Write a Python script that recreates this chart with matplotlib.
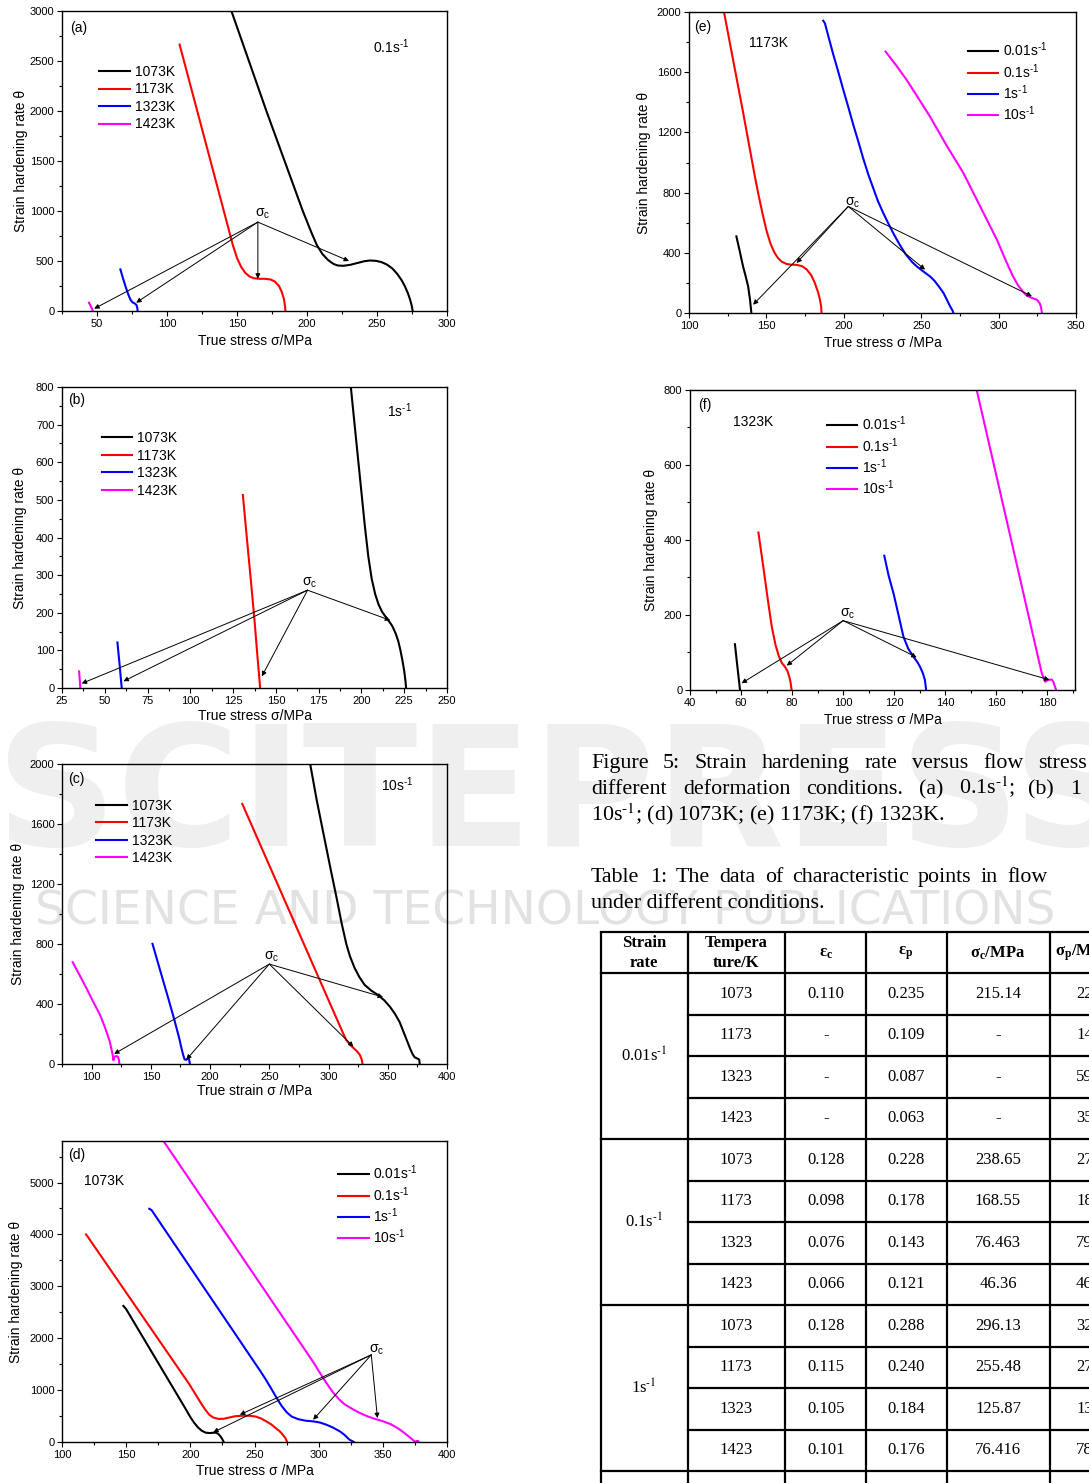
import numpy as np
import matplotlib.pyplot as plt
from matplotlib.ticker import MultipleLocator

plt.rcParams['font.family'] = ['Liberation Sans', 'DejaVu Sans']
plt.rcParams['mathtext.default'] = 'regular'
plt.rcParams['mathtext.fontset'] = 'custom'
plt.rcParams['mathtext.rm'] = 'Liberation Sans'
plt.rcParams['mathtext.it'] = 'Liberation Sans:italic'
plt.rcParams['mathtext.bf'] = 'Liberation Sans:bold'

W, H = 1089, 1483
SERIF = ['Liberation Serif', 'DejaVu Serif']
COLORS = ['#000000', '#ff0000', '#0000ff', '#ff00ff']

# ---------------- data ----------------
temps = ['1073K', '1173K', '1323K', '1423K']
rates = [r'0.01s$^{\text{-1}}$', r'0.1s$^{\text{-1}}$', r'1s$^{\text{-1}}$', r'10s$^{\text{-1}}$']

# (a) 0.1 s-1
a_s1073 = [146, 171, 197, 203, 207, 211, 215, 219, 222, 226, 231, 236, 241, 245, 249, 253, 257, 261, 264.5, 267.5, 270, 272, 273.5, 274.7, 275.5]
a_t1073 = [3000, 2000, 1000, 790, 660, 570, 510, 470, 455, 452, 462, 480, 498, 505, 502, 490, 465, 425, 370, 310, 245, 180, 120, 60, 0]
a_s1173 = [109, 144, 147, 150, 153, 156, 159, 162, 166, 170, 174, 177, 180, 182, 183.5, 184.3, 184.6]
a_t1173 = [2664, 820, 660, 530, 440, 380, 345, 328, 322, 322, 315, 295, 250, 190, 120, 50, 0]
a_s1323 = [66.7, 68.5, 70.5, 72.5, 74, 75.5, 77, 78.2, 78.8, 79]
a_t1323 = [416, 330, 240, 160, 110, 85, 75, 60, 30, 0]
a_s1423 = [44.3, 45.5, 46.5, 47]
a_t1423 = [83, 50, 20, 0]

# (b) 1 s-1
b_s1073 = [193.8, 196, 198, 200, 202, 204, 206, 208, 210, 212, 214, 216, 218, 220, 221.5, 222.8, 224, 225, 225.7, 226.1]
b_t1073 = [800, 700, 610, 520, 430, 350, 290, 250, 222, 203, 190, 178, 165, 145, 125, 100, 72, 45, 20, 0]
b_s1173 = [130.7, 133, 135.5, 137.5, 139.3, 140.8]
b_t1173 = [513, 400, 280, 180, 80, 0]
b_s1323 = [57.4, 58.7, 59.9]
b_t1323 = [121, 60, 0]
b_s1423 = [35, 35.4, 35.7]
b_t1423 = [44, 20, 0]

# (c) 10 s-1
c_s1073 = [284.5, 290, 296.5, 302, 307, 311, 315, 318, 322, 326, 330.4, 336, 341.7, 347, 352, 356, 360, 363.5, 366.5, 369, 371, 372.7, 374.5, 376.5, 377]
c_t1073 = [2000, 1760, 1505, 1290, 1100, 940, 800, 720, 640, 580, 528, 490, 460, 425, 380, 335, 280, 210, 150, 100, 65, 45, 38, 30, 0]
c_s1173 = [227.2, 312, 315, 318, 321, 324, 326.5, 328, 328.7]
c_t1173 = [1734, 210, 160, 130, 107, 85, 60, 30, 0]
c_s1323 = [151.4, 158, 165, 170, 174, 176, 177.5, 178.5, 180, 181.5, 182.3, 183]
c_t1323 = [801, 620, 430, 290, 170, 100, 55, 30, 28, 40, 30, 0]
c_s1423 = [84, 90, 95.6, 101, 107, 111, 115.3, 117.8, 118.4, 119, 120.5, 122, 123, 123.5]
c_t1423 = [679, 590, 506, 420, 329, 250, 151, 60, 25, 48, 52, 50, 30, 0]

# (d) 1073 K
d_s001 = [147.8, 150, 197, 200, 203, 206, 209, 212, 215, 218, 220, 222, 223.8, 225, 226]
d_t001 = [2622, 2560, 610, 480, 370, 280, 215, 180, 172, 178, 180, 150, 100, 50, 0]
d_s01 = [118.7, 119.7, 199, 203, 206, 209, 212, 215, 218, 222, 226, 230, 235, 240, 246, 251, 255, 259, 263, 266, 269.7, 272, 274, 275.4]
d_t01 = [4000, 3968, 1120, 960, 840, 720, 610, 520, 470, 445, 447, 470, 497, 505, 506, 490, 455, 400, 340, 280, 205, 140, 80, 0]
d_s1 = [168, 169.8, 255, 259, 263, 267, 271, 275, 279, 284, 290, 296, 301, 306, 311, 316.5, 320, 324, 327.4]
d_t1 = [4494, 4468, 1350, 1195, 1030, 860, 700, 575, 490, 440, 410, 397, 375, 333, 280, 205, 140, 45, 0]
d_s10 = [179.4, 296, 300, 304, 308, 312, 316, 320, 326, 332, 338, 344, 350, 356, 362, 367, 371, 374, 375, 376.5, 377.5, 378]
d_t10 = [5788, 1532, 1370, 1215, 1065, 930, 820, 730, 640, 560, 495, 445, 400, 345, 260, 170, 90, 30, 0, 20, 20, 0]

# (e) 1173 K
e_s001 = [130.6, 132.8, 134.9, 136.7, 138.2, 139.4, 140.3]
e_t001 = [509, 410, 310, 240, 177, 90, 0]
e_s01 = [122.6, 125, 127.5, 130, 132.5, 135, 137.5, 140, 142.5, 145, 147.5, 150, 152.5, 155, 157.5, 160, 163, 166, 169.5, 173, 176, 179, 181.3, 183.3, 184.6, 185.4, 185.6]
e_t01 = [2000, 1870, 1735, 1600, 1465, 1330, 1190, 1050, 910, 780, 660, 550, 465, 405, 365, 340, 326, 321, 320, 311, 290, 250, 199, 140, 88, 40, 0]
e_s1 = [186.7, 187.8, 190, 193, 196.5, 199.7, 203, 206, 209.5, 212.6, 216, 219, 222, 225.5, 229, 232.5, 236.3, 240, 244, 247.1, 251.5, 255.7, 258.5, 261.5, 264.4, 266.5, 268.7, 270.3, 270.8]
e_t1 = [1942, 1925, 1840, 1725, 1600, 1482, 1365, 1255, 1135, 1025, 915, 830, 745, 664, 590, 520, 450, 390, 340, 310, 275, 243, 215, 175, 133, 90, 44, 15, 0]
e_s10 = [227, 233.5, 240.6, 248, 255.7, 266, 277.3, 288, 298.9, 305, 309, 312.5, 315.5, 318.3, 321.5, 324.8, 326.5, 327.3, 328]
e_t10 = [1737, 1650, 1549, 1430, 1305, 1120, 929, 710, 487, 340, 250, 185, 145, 115, 100, 88, 65, 44, 0]

# (f) 1323 K
f_s001 = [57.6, 58.6, 59.6]
f_t001 = [122, 60, 0]
f_s01 = [66.8, 68.7, 70.5, 72, 73.5, 74.8, 76, 77.2, 78.2, 78.9, 79.4, 79.8]
f_t01 = [420, 329, 240, 170, 120, 90, 72, 62, 50, 35, 20, 0]
f_s1 = [116.1, 117.8, 119.7, 121.5, 123.6, 125.5, 127.5, 129, 130.1, 131.2, 132, 132.5]
f_t1 = [358, 305, 258, 205, 142, 110, 89, 75, 62, 45, 27, 0]
f_s10 = [152.3, 177.8, 179.1, 180.4, 181.7, 182.3, 182.9, 183.4]
f_t10 = [800, 44, 22, 27, 28, 22, 10, 0]

# sigma_c annotations: label position, arrow origin, arrow tips
a_sc = [(168, 967), (164.9, 889), [(230, 500), (164.9, 323), (78, 83), (48, 23)]]
b_sc = [(169.5, 280), (168.5, 260), [(216.8, 180), (141.8, 31), (60.9, 18), (36.5, 12)]]
c_sc = [(252, 717), (250, 666), [(346, 446), (321, 115), (180, 29), (119, 67)]]
d_sc = [(345, 1776), (341, 1679), [(238.6, 526), (217.8, 186), (295.7, 429), (345.8, 461)]]
e_sc = [(205.5, 735), (202.9, 708), [(141.4, 55), (169.5, 332), (252.5, 288), (321.5, 111)]]
f_sc = [(101.8, 204), (100, 185), [(60.2, 18), (77.9, 65), (128.8, 87), (180.8, 27)]]

# table 1
tab_rates = [r'0.01s$^{\text{-1}}$', r'0.1s$^{\text{-1}}$', r'1s$^{\text{-1}}$']
tab_temps = ['1073', '1173', '1323', '1423'] * 3
tab_eps_c = ['0.110', '-', '-', '-', '0.128', '0.098', '0.076', '0.066', '0.128', '0.115', '0.105', '0.101']
tab_eps_p = ['0.235', '0.109', '0.087', '0.063', '0.228', '0.178', '0.143', '0.121', '0.288', '0.240', '0.184', '0.176']
tab_sig_c = ['215.14', '-', '-', '-', '238.65', '168.55', '76.463', '46.36', '296.13', '255.48', '125.87', '76.416']
tab_sig_p = ['22', '14', '59', '35', '27', '18', '79', '46', '32', '27', '13', '78']  # cut off at page edge

# ---------------- figure ----------------
fig = plt.figure(figsize=(W / 100, H / 100), dpi=100)

# faint watermark underneath everything
bg = fig.add_axes([0, 0, 1, 1])
bg.set_xlim(0, W)
bg.set_ylim(H, 0)
bg.axis('off')
bg.text(-4, 800, 'SCITEPRESS', fontsize=121, fontweight='bold', color='#efefef',
        ha='left', va='center', family='DejaVu Sans')
bg.text(545, 912, 'SCIENCE AND TECHNOLOGY PUBLICATIONS', fontsize=34, color='#e2e2e2',
        ha='center', va='center', family='DejaVu Sans')


def panel(box, xlim, ylim, xt, yt, xlabel, xl_y, yl_x):
    l, t, r, b = box
    ax = fig.add_axes([l / W, 1 - b / H, (r - l) / W, (b - t) / H])
    ax.set_facecolor('none')
    ax.set_xlim(*xlim)
    ax.set_ylim(*ylim)
    ax.xaxis.set_major_locator(MultipleLocator(xt[0]))
    ax.xaxis.set_minor_locator(MultipleLocator(xt[1]))
    ax.yaxis.set_major_locator(MultipleLocator(yt[0]))
    ax.yaxis.set_minor_locator(MultipleLocator(yt[1]))
    ax.tick_params(which='both', direction='out', width=0.8, labelsize=8, pad=2)
    ax.tick_params(which='major', length=3.5)
    ax.tick_params(which='minor', length=2)
    for sp in ax.spines.values():
        sp.set_linewidth(1.0)
    ax.set_xlabel(xlabel, fontsize=10)
    ax.set_ylabel('Strain hardening rate θ', fontsize=10)
    ax.xaxis.set_label_coords(0.5, -(xl_y - 8 - b) / (b - t))
    ax.yaxis.set_label_coords((yl_x + 8 - l) / (r - l), 0.5)
    return ax


def sigma_c(ax, sc):
    (lx, ly), src, tips = sc
    ax.text(lx, ly, '$σ_c$', ha='center', va='center', fontsize=10)
    for tip in tips:
        ax.annotate('', xy=tip, xytext=src,
                    arrowprops=dict(arrowstyle='-|>', color='k', lw=0.7,
                                    mutation_scale=7, shrinkA=0, shrinkB=0))


def curves(ax, xs, ys, labels, leg_xy, spacing):
    for x, y, c, lab in zip(xs, ys, COLORS, labels):
        ax.plot(x, y, color=c, lw=1.5, label=lab)
    ax.legend(loc='upper left', bbox_to_anchor=leg_xy, frameon=False, fontsize=10,
              handlelength=2.2, handletextpad=0.35, labelspacing=spacing,
              borderpad=0, borderaxespad=0)


def tag(ax, letter, lpos, note, npos):
    ax.text(*lpos, letter, transform=ax.transAxes, fontsize=10, ha='left', va='center')
    ax.text(*npos, note, transform=ax.transAxes, fontsize=10, ha='left', va='center')


# (a)
ax = panel((62, 11, 447, 311), (25, 300), (0, 3000), (50, 25), (500, 250),
           'True stress σ/MPa', 342, 20)
curves(ax, [a_s1073, a_s1173, a_s1323, a_s1423], [a_t1073, a_t1173, a_t1323, a_t1423],
       temps, (0.097, 0.82), 0.25)
sigma_c(ax, a_sc)
tag(ax, '(a)', (0.02, 0.943), r'0.1s$^{\text{-1}}$', (0.808, 0.882))

# (b)
ax = panel((62, 387, 447, 688), (25, 250), (0, 800), (25, 12.5), (100, 50),
           'True stress σ/MPa', 717, 19)
curves(ax, [b_s1073, b_s1173, b_s1323, b_s1423], [b_t1073, b_t1173, b_t1323, b_t1423],
       temps, (0.103, 0.853), 0.25)
sigma_c(ax, b_sc)
tag(ax, '(b)', (0.016, 0.956), r'1s$^{\text{-1}}$', (0.844, 0.922))

# (c)
ax = panel((62, 764, 447, 1064), (75, 400), (0, 2000), (50, 25), (400, 200),
           'True strain σ /MPa', 1092, 17)
curves(ax, [c_s1073, c_s1173, c_s1323, c_s1423], [c_t1073, c_t1173, c_t1323, c_t1423],
       temps, (0.089, 0.884), 0.25)
sigma_c(ax, c_sc)
tag(ax, '(c)', (0.017, 0.95), r'10s$^{\text{-1}}$', (0.829, 0.93))

# (d)
ax = panel((62, 1141, 447, 1442), (100, 400), (0, 5800), (50, 25), (1000, 500),
           'True stress σ /MPa', 1472, 15)
curves(ax, [d_s001, d_s01, d_s1, d_s10], [d_t001, d_t01, d_t1, d_t10],
       rates, (0.717, 0.925), 0.2)
sigma_c(ax, d_sc)
tag(ax, '(d)', (0.015, 0.952), '1073K', (0.057, 0.866))

# (e)
ax = panel((689, 12, 1076, 313), (100, 350), (0, 2000), (50, 25), (400, 200),
           'True stress σ /MPa', 344, 643)
curves(ax, [e_s001, e_s01, e_s1, e_s10], [e_t001, e_t01, e_t1, e_t10],
       rates, (0.72, 0.905), 0.2)
sigma_c(ax, e_sc)
tag(ax, '(e)', (0.012, 0.951), '1173K', (0.154, 0.896))

# (f)
ax = panel((690, 390, 1075, 690), (40, 190.8), (0, 800), (20, 10), (200, 100),
           'True stress σ /MPa', 721, 650)
curves(ax, [f_s001, f_s01, f_s1, f_s10], [f_t001, f_t01, f_t1, f_t10],
       rates, (0.355, 0.918), 0.2)
sigma_c(ax, f_sc)
tag(ax, '(f)', (0.022, 0.95), '1323K', (0.111, 0.894))

# ---------------- caption and table (page pixels) ----------------
ov = fig.add_axes([0, 0, 1, 1])
ov.set_xlim(0, W)
ov.set_ylim(H, 0)
ov.axis('off')


def words(items, y, size=15.8):
    for x, w in items:
        ov.text(x, y, w, family=SERIF, fontsize=size, ha='left', va='baseline',
                math_fontfamily='stix')


words([(591, 'Figure'), (663, '5:'), (695, 'Strain'), (762, 'hardening'), (865, 'rate'),
       (912, 'versus'), (983, 'flow'), (1038, 'stress')], 768)
words([(591, 'different'), (683, 'deformation'), (806, 'conditions.'), (919, '(a)'),
       (959, r'0.1s$^{\text{-1}}$;'), (1028, '(b)'), (1070, '1')], 794)
words([(591, r'10s$^{\text{-1}}$; (d) 1073K; (e) 1173K; (f) 1323K.')], 820)
words([(591, 'Table'), (650, '1:'), (676, 'The'), (719, 'data'), (765, 'of'),
       (792, 'characteristic'), (918, 'points'), (981, 'in'), (1007, 'flow')], 882)
words([(591, 'under different conditions.')], 908)

# table grid
col_x = [601, 688, 785, 866, 947, 1050]
y_top, y_head = 932, 973
row_h = 41.5
for x in col_x:
    ov.plot([x, x], [y_top, H + 5], color='k', lw=1.6, solid_capstyle='butt')
ov.plot([col_x[0], W + 5], [y_top, y_top], color='k', lw=1.6)
ov.plot([col_x[0], W + 5], [y_head, y_head], color='k', lw=1.6)
for i in range(1, 13):
    y = y_head + i * row_h
    x0 = col_x[0] if i % 4 == 0 else col_x[1]
    ov.plot([x0, W + 5], [y, y], color='k', lw=1.6)

tk = dict(family=SERIF, fontsize=12, ha='center', va='center', math_fontfamily='stix')
ov.text(644, 943, 'Strain', fontweight='bold', **tk)
ov.text(644, 963, 'rate', fontweight='bold', **tk)
ov.text(736, 943, 'Tempera', fontweight='bold', **tk)
ov.text(736, 963, 'ture/K', fontweight='bold', **tk)
ov.text(826, 953, '$ε_c$', fontweight='bold', **tk)
ov.text(906, 953, '$ε_p$', fontweight='bold', **tk)
ov.text(998, 953, '$σ_c$/MPa', fontweight='bold', **tk)
ov.text(1055, 953, '$σ_p$/MPa', fontweight='bold', family=SERIF, fontsize=12,
        ha='left', va='center', math_fontfamily='stix')

for k, rate in enumerate(tab_rates):
    ov.text(644, y_head + (4 * k + 2) * row_h, rate, **tk)
for i in range(12):
    yc = y_head + (i + 0.5) * row_h
    ov.text(736, yc, tab_temps[i], **tk)
    ov.text(826, yc, tab_eps_c[i], **tk)
    ov.text(906, yc, tab_eps_p[i], **tk)
    ov.text(998, yc, tab_sig_c[i], **tk)
    ov.text(1076, yc, tab_sig_p[i], family=SERIF, fontsize=12, ha='left', va='center')

fig.savefig('out.png', dpi=100)
